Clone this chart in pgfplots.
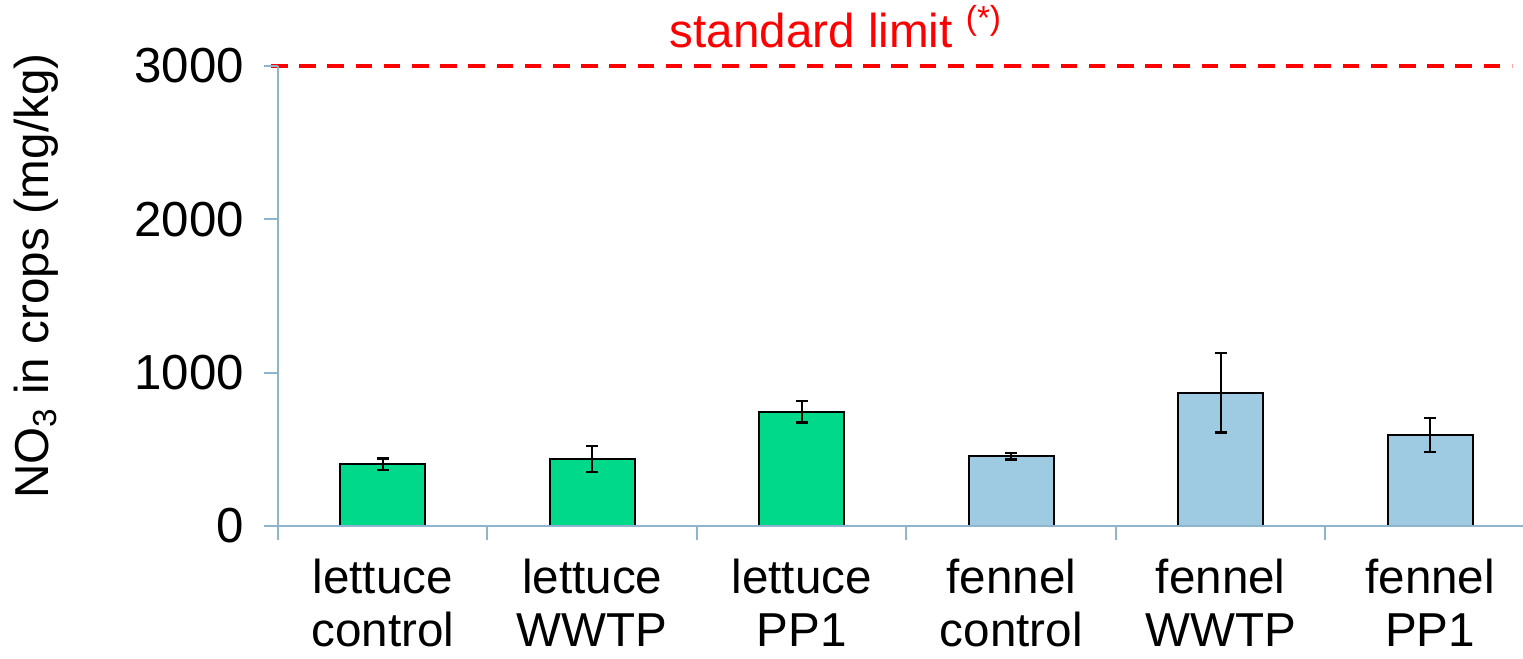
\documentclass[border=0pt]{standalone}
\usepackage{fontspec}
\setmainfont{Liberation Sans}
\usepackage{pgfplots}
\pgfplotsset{compat=1.18}
\definecolor{axblue}{RGB}{142,180,206}
\definecolor{bargreen}{RGB}{0,217,137}
\definecolor{barblue}{RGB}{158,203,225}
\newcommand{\bigf}{\fontsize{23.8}{26.5}\selectfont}
\begin{document}
\begin{tikzpicture}
\begin{axis}[
  at={(0,0)}, anchor=south west,
  scale only axis, width=622.5pt, height=230pt,
  xmin=-0.5, xmax=5.443, ymin=0, ymax=3000,
  clip=false,
  axis on top,
  ybar, bar shift=0pt, bar width=42.5pt,
  axis x line*=bottom, axis y line*=left,
  axis line style={axblue, line width=1pt, -},
  ytick={0,1000,2000,3000},
  xtick={0,...,5},
  xticklabels={{lettuce\\control},{lettuce\\WWTP},{lettuce\\PP1},{fennel\\control},{fennel\\WWTP},{fennel\\PP1}},
  minor xtick={-0.5,0.5,...,4.5},
  tick align=outside,
  major tick length=7pt, minor tick length=7pt,
  tick style={axblue, line width=1pt},
  major x tick style={draw=none},
  /pgf/number format/assume math mode=true,
  /pgf/number format/1000 sep={},
  ticklabel style={font=\bigf},
  xticklabel style={align=center, yshift=-6pt},
  yticklabel style={font=\fontsize{24.6}{27}\selectfont, xshift=-6.5pt},
]
\addplot[fill=bargreen, draw=black, line width=1pt,
  error bars/.cd, y dir=both, y explicit,
  error bar style={black, line width=1.2pt},
  error mark options={rotate=90, black, mark size=3pt, line width=1.2pt}]
  coordinates {(0,404) +- (0,37) (1,437) +- (0,86) (2,746) +- (0,70)};
\addplot[fill=barblue, draw=black, line width=1pt,
  error bars/.cd, y dir=both, y explicit,
  error bar style={black, line width=1.2pt},
  error mark options={rotate=90, black, mark size=3pt, line width=1.2pt}]
  coordinates {(3,455) +- (0,22) (4,868) +- (0,259) (5,593) +- (0,111)};
\addplot[sharp plot, red, line width=2.2pt, dash pattern=on 8.3pt off 5.8pt, forget plot]
  coordinates {(-0.533,3000) (5.39,3000)};
\node[anchor=base, text=red, font=\bigf, yshift=9pt] at (axis cs:2.163,3000) {standard limit \textsuperscript{(*)}};
\node[rotate=90, anchor=base, font=\bigf] at (axis description cs:-0.184,0.543) {NO\textsubscript{3} in crops (mg/kg)};
\end{axis}
\pgfresetboundingbox
\path[use as bounding box] (-139pt,-66.5pt) rectangle (622.5pt,263pt);
\end{tikzpicture}
\end{document}
